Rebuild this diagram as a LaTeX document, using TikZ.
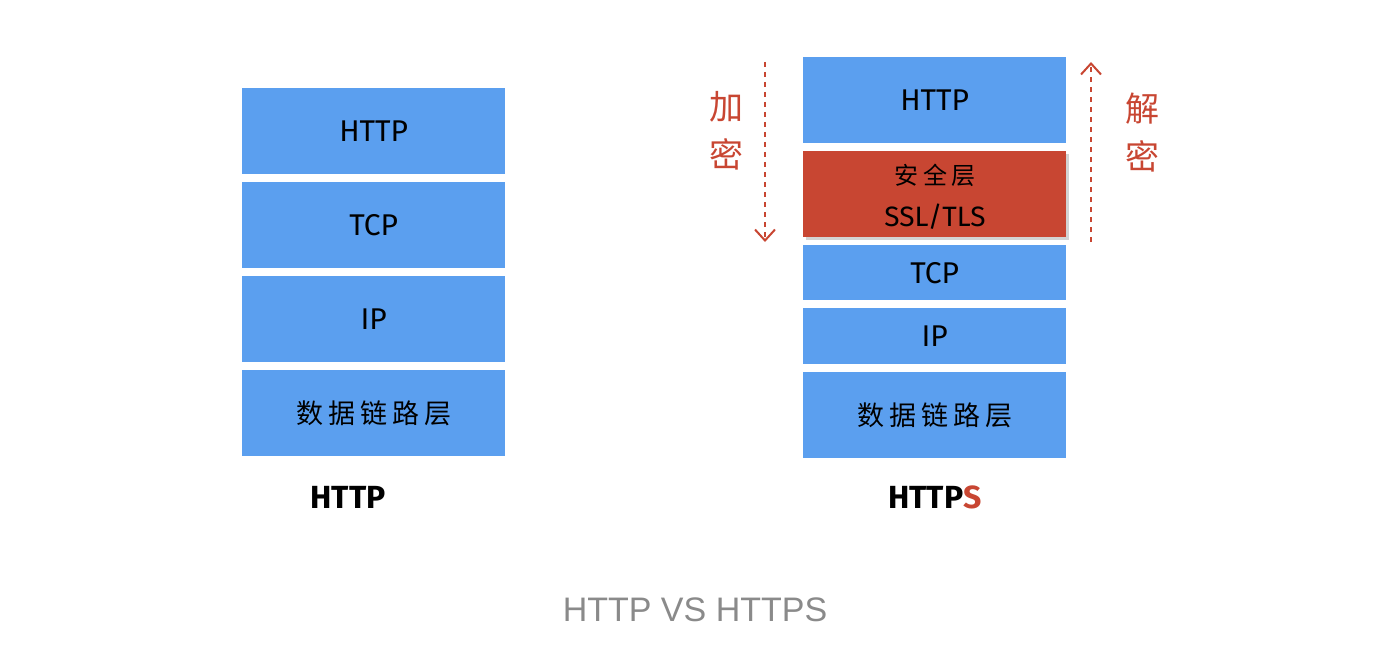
\documentclass[tikz,border=0pt]{standalone}
\usepackage{fontspec}
\setmainfont{Fira Sans}
\newfontfamily\cjk{Noto Sans CJK SC}
\newfontfamily\capfont{Liberation Sans}
\usetikzlibrary{arrows.meta,shadows}
\definecolor{layerblue}{HTML}{5B9FEF}
\definecolor{layerred}{HTML}{C84632}
\definecolor{capgray}{HTML}{8A8A8A}
\newcommand{\cgap}{\hspace{5pt}}
\tikzset{
  layer/.style={fill=layerblue, draw=none, minimum width=263pt, inner sep=0pt, anchor=north west, font=\fontsize{30}{34}\selectfont},
  cnlayer/.style={layer, font=\cjk\fontsize{27}{32}\selectfont},
  seclayer/.style={fill=layerred, draw=none, minimum width=263pt, minimum height=86pt, inner sep=0pt, anchor=north west, drop shadow={shadow xshift=3pt, shadow yshift=-3pt, opacity=0.35}},
  cryptarrow/.style={draw=layerred, line width=1.8pt, dash pattern=on 5pt off 5pt, -{Straight Barb[length=11pt,width=20pt,line width=2pt]}},
  cryptlabel/.style={text=layerred, font=\cjk\fontsize{34}{48}\selectfont, align=center},
  stacklabel/.style={font=\bfseries\fontsize{32}{36}\selectfont}
}
\begin{document}
\begin{tikzpicture}[x=1pt,y=-1pt]
\useasboundingbox (0,0) rectangle (1392,658);
% left stack
\node[layer, minimum height=86pt] (lhttp) at (242,88) {HTTP};
\node[layer, minimum height=86pt] (ltcp) at (242,182) {TCP};
\node[layer, minimum height=86pt] (lip) at (242,276) {IP};
\node[cnlayer, minimum height=86pt] (llink) at (242,370) {数\cgap 据\cgap 链\cgap 路\cgap 层};
\node[stacklabel] (lname) at (348,497) {HTTP};
% right stack
\node[layer, minimum height=86pt] (rhttp) at (803,57) {HTTP};
\node[seclayer] (rsec) at (803,151) {};
\node[font=\cjk\fontsize{24}{28}\selectfont] (rsec1) at (935,175) {安\cgap 全\cgap 层};
\node[font=\fontsize{28}{32}\selectfont] (rsec2) at (935,217) {SSL/TLS};
\node[layer, minimum height=55pt] (rtcp) at (803,245) {TCP};
\node[layer, minimum height=56pt] (rip) at (803,308) {IP};
\node[cnlayer, minimum height=86pt] (rlink) at (803,372) {数\cgap 据\cgap 链\cgap 路\cgap 层};
\node[stacklabel] (rname) at (935,497) {HTTP\textcolor{layerred}{S}};
% arrows
\coordinate (encTop) at (765,62);
\coordinate (encBot) at (765,242);
\coordinate (decBot) at (1091,242);
\coordinate (decTop) at (1091,62);
\draw[cryptarrow] (encTop) -- (encBot);
\draw[cryptarrow] (decBot) -- (decTop);
\node[cryptlabel] (enc) at (726,131) {加\\密};
\node[cryptlabel] (dec) at (1142,133) {解\\密};
% caption
\node[text=capgray, font=\capfont\fontsize{34}{40}\selectfont] (cap) at (695,610) {HTTP VS HTTPS};
\end{tikzpicture}
\end{document}
